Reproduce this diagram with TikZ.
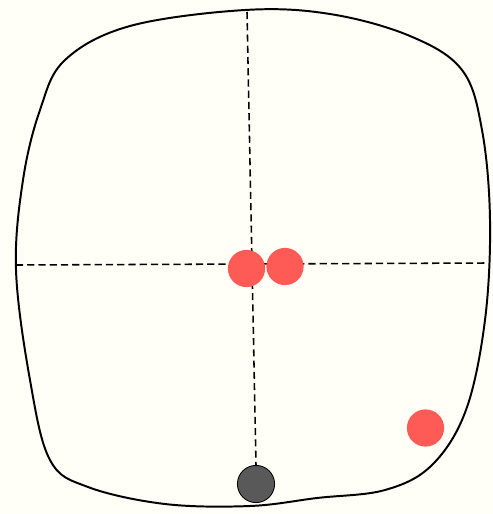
\documentclass[tikz,border=0pt]{standalone}
\usetikzlibrary{positioning}

\begin{document}
\begin{tikzpicture}[
    x=0.025cm, y=-0.025cm,
    outline/.style={draw=black, line width=1.4pt, line join=round},
    crosshair/.style={draw=black, line width=1.1pt, dash pattern=on 5pt off 3pt},
    reddot/.style={circle, fill=red!65!white!96!orange, draw=none, minimum size=0.93cm, inner sep=0pt},
    darkdot/.style={circle, fill=black!65, draw=black, line width=0.6pt, minimum size=0.93cm, inner sep=0pt},
]

% Paper background
\fill[white!97!yellow] (0,0) rectangle (493,514);
\useasboundingbox (0,0) rectangle (493,514);

% Hand-drawn outline
\draw[outline] plot[smooth cycle, tension=0.6] coordinates {
    (245,10) (330,14) (410,36) (462,70) (482,130) (490,220)
    (485,320) (466,410) (432,465) (385,490) (317,498) (250,506)
    (165,504) (88,487) (50,460) (30,380) (16,270) (23,180)
    (40,110) (65,60) (130,26)};

% Crosshair ends
\coordinate (top) at (247,12);
\coordinate (west) at (16,265);
\coordinate (east) at (487,263);

% Dots
\node[darkdot] (bottom) at (256,484) {};

% Crosshair
\draw[crosshair] (top) -- (bottom.north);
\draw[crosshair] (west) -- (east);

% Red dots on top of the crosshair
\node[reddot] (left) at (246.5,268.5) {};
\node[reddot] (right) at (285,266.5) {};
\node[reddot] (corner) at (425.5,428) {};

\end{tikzpicture}
\end{document}
